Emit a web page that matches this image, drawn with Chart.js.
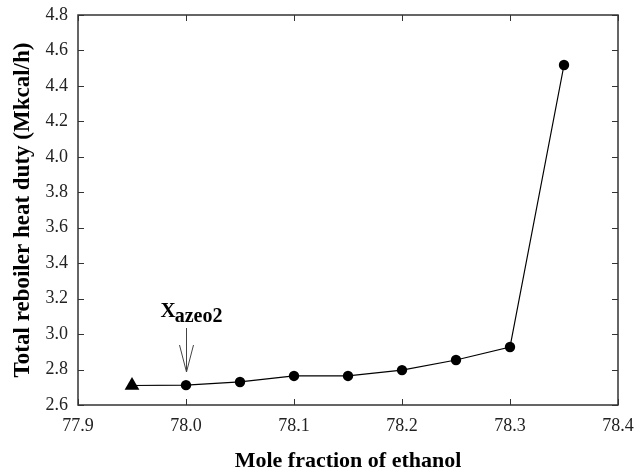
<!DOCTYPE html>
<html>
<head>
<meta charset="utf-8">
<script src="https://cdn.jsdelivr.net/npm/chart.js@4.4.1/dist/chart.umd.min.js"></script>
<style>
  html, body { margin: 0; padding: 0; background: #fff; }
  #wrap { width: 639px; height: 475px; }
</style>
</head>
<body>
<div id="wrap"><canvas id="dutyChart"></canvas></div>
<script>
// Mole fraction of ethanol vs total reboiler heat duty
var moleFraction = [77.95, 78.00, 78.05, 78.10, 78.15, 78.20, 78.25, 78.30, 78.35];
var heatDuty = [2.710, 2.712, 2.730, 2.764, 2.764, 2.797, 2.854, 2.927, 4.518];
// first point is the azeotrope feed (triangle), the rest are circles
var markerStyles = ['triangle', 'circle', 'circle', 'circle', 'circle', 'circle', 'circle', 'circle', 'circle'];

var xMin = 77.9, xMax = 78.4, xStep = 0.1;
var yMin = 2.6, yMax = 4.8, yStep = 0.2;
var azeoMarker = 78.0;

var serif = '"Liberation Serif", "Times New Roman", serif';

var points = moleFraction.map(function (x, i) {
    return { x: x, y: heatDuty[i] };
});

// frame round the plot area plus inward ticks on all four sides
var frameTicks = {
    id: 'frameTicks',
    afterDraw: function (chart) {
        var ctx = chart.ctx;
        var a = chart.chartArea;
        var sx = chart.scales.x, sy = chart.scales.y;
        var len = 6;
        ctx.save();
        ctx.strokeStyle = '#333';
        ctx.lineWidth = 1.5;
        ctx.strokeRect(a.left, a.top, a.right - a.left, a.bottom - a.top);
        ctx.lineWidth = 1;
        ctx.beginPath();
        sx.ticks.forEach(function (t) {
            var px = Math.round(sx.getPixelForValue(t.value)) + 0.5;
            ctx.moveTo(px, a.bottom); ctx.lineTo(px, a.bottom - len);
            ctx.moveTo(px, a.top); ctx.lineTo(px, a.top + len);
        });
        sy.ticks.forEach(function (t) {
            var py = Math.round(sy.getPixelForValue(t.value)) + 0.5;
            ctx.moveTo(a.left, py); ctx.lineTo(a.left + len, py);
            ctx.moveTo(a.right, py); ctx.lineTo(a.right - len, py);
        });
        ctx.stroke();
        ctx.restore();
    }
};

// "X azeo2" label with a downward arrow
var azeoLabel = {
    id: 'azeoLabel',
    afterDraw: function (chart) {
        var ctx = chart.ctx;
        var sx = chart.scales.x;
        var px = Math.round(sx.getPixelForValue(azeoMarker)) + 0.5;
        ctx.save();
        ctx.fillStyle = '#000';
        ctx.textBaseline = 'alphabetic';
        ctx.font = 'bold 21px ' + serif;
        var xw = ctx.measureText('X').width;
        var startX = px - 26;
        ctx.fillText('X', startX, 317);
        ctx.font = 'bold 20px ' + serif;
        ctx.fillText('azeo2', startX + xw - 1, 322);

        ctx.strokeStyle = '#444';
        ctx.lineWidth = 1;
        ctx.beginPath();
        ctx.moveTo(px, 328); ctx.lineTo(px, 372);
        ctx.moveTo(px - 7, 345); ctx.lineTo(px, 372); ctx.lineTo(px + 7, 345);
        ctx.stroke();
        ctx.restore();
    }
};

var ctx = document.getElementById('dutyChart').getContext('2d');
var dutyChart = new Chart(ctx, {
    type: 'line',
    data: {
        datasets: [{
            data: points,
            borderColor: '#000',
            borderWidth: 1.2,
            backgroundColor: '#000',
            pointStyle: markerStyles,
            pointRadius: [8.5, 5.2, 5.2, 5.2, 5.2, 5.2, 5.2, 5.2, 5.2],
            pointBorderWidth: 0,
            tension: 0
        }]
    },
    options: {
        responsive: true,
        maintainAspectRatio: false,
        animation: false,
        layout: { padding: { top: 15, right: 21, left: 0, bottom: 0 } },
        plugins: {
            legend: { display: false },
            tooltip: { enabled: false }
        },
        scales: {
            x: {
                type: 'linear',
                min: xMin,
                max: xMax,
                grid: { display: false, drawTicks: false, tickLength: 0 },
                border: { display: false },
                ticks: {
                    stepSize: xStep,
                    color: '#222',
                    padding: 10,
                    maxRotation: 0,
                    font: { family: serif, size: 18 },
                    callback: function (v) { return v.toFixed(1); }
                },
                title: {
                    display: true,
                    text: 'Mole fraction of ethanol',
                    color: '#000',
                    font: { family: serif, size: 22, weight: 'bold' },
                    padding: { top: 0, bottom: 0 }
                },
                afterFit: function (scale) {
                    scale.height = 70;
                    // let the outer tick labels overhang the plot edges
                    scale.paddingLeft = 0;
                    scale.paddingRight = 0;
                }
            },
            y: {
                min: yMin,
                max: yMax,
                grid: { display: false, drawTicks: false, tickLength: 0 },
                border: { display: false },
                ticks: {
                    stepSize: yStep,
                    color: '#222',
                    padding: 10,
                    font: { family: serif, size: 18 },
                    callback: function (v) { return v.toFixed(1); }
                },
                title: {
                    display: true,
                    text: 'Total reboiler heat duty (Mkcal/h)',
                    color: '#000',
                    font: { family: serif, size: 23, weight: 'bold' },
                    padding: { top: 9, bottom: 0 }
                },
                afterFit: function (scale) {
                    scale.width = 78;
                    scale.paddingTop = 0;
                    scale.paddingBottom = 0;
                }
            }
        }
    },
    plugins: [frameTicks, azeoLabel]
});
</script>
</body>
</html>
